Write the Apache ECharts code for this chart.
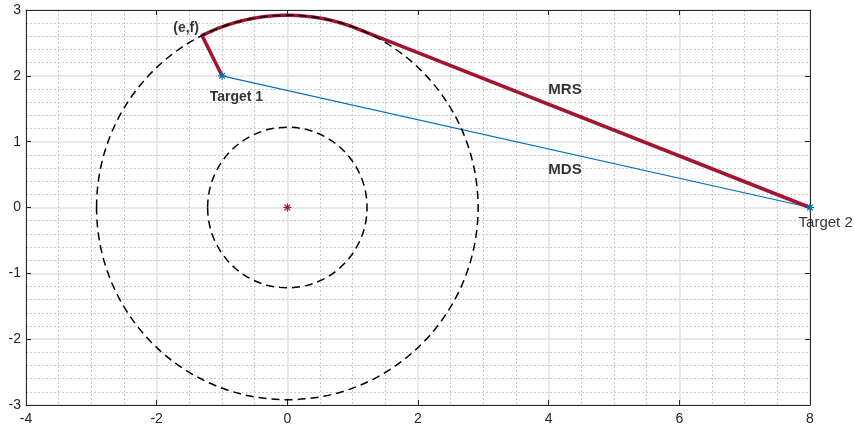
<!DOCTYPE html>
<html><head><meta charset="utf-8">
<script src="https://cdn.jsdelivr.net/npm/echarts@6/dist/echarts.min.js"></script>
<style>html,body{margin:0;padding:0;background:#fff}#chart{width:854px;height:431px}</style>
</head><body><div id="chart"></div>
<script>
// Axis ranges / ticks
const xRange = [-4, 8];
const yRange = [-3, 3];
const xStep = 2;
const yStep = 1;
const xMinorDivisions = 4;
const yMinorDivisions = 5;

// Geometry of the scene
const centre = [0, 0];
const circleRadii = [1.22, 2.92];   // inner and outer dashed circles
const target1 = [-1, 2];
const target2 = [8, 0];
const exitPoint = [-1.3, 2.6];      // (e,f) on the outer circle

// Text annotations: name, anchor point in data units, bold flag, font size
const labelNames = ['(e,f)', 'Target 1', 'MRS', 'MDS', 'Target 2'];
const labelPoints = [[-1.55, 2.72], [-0.78, 1.67], [4.25, 1.78], [4.25, 0.57], [8.24, -0.23]];
const labelBold = [true, true, true, true, false];
const labelSizes = [14, 14, 15, 15, 15];

const RED = '#A2142F';
const BLUE = '#0072BD';
const FONT = '"Liberation Sans", Arial, Helvetica, sans-serif';

const chart = echarts.init(document.getElementById('chart'), null, { renderer: 'canvas' });

// asterisk marker drawn as four crossing strokes
function asterisk(p, r, color) {
  const d = r * Math.SQRT1_2;
  const segs = [[-r, 0, r, 0], [0, -r, 0, r], [-d, -d, d, d], [-d, d, d, -d]];
  return {
    type: 'group',
    children: segs.map(s => ({
      type: 'line',
      shape: { x1: p[0] + s[0], y1: p[1] + s[1], x2: p[0] + s[2], y2: p[1] + s[3] },
      style: { stroke: color, lineWidth: 1.2 }
    }))
  };
}

const outerR = circleRadii[1];
const arcStart = Math.atan2(exitPoint[1] - centre[1], exitPoint[0] - centre[0]);
const dT2 = Math.hypot(target2[0] - centre[0], target2[1] - centre[1]);
const arcEnd = Math.atan2(target2[1] - centre[1], target2[0] - centre[0]) + Math.acos(outerR / dT2);

const axisCommon = {
  type: 'value',
  axisLine: { show: true, onZero: false, lineStyle: { color: '#262626', width: 1 } },
  axisTick: { show: true, inside: true, length: 5, lineStyle: { color: '#262626', width: 1 } },
};
const majorGrid = { show: true, lineStyle: { color: '#e0e0e0', width: 1.5 } };
const minorGrid = { show: true, lineStyle: { color: '#c8c8c8', width: 1, type: [2, 2] } };

const option = {
  animation: false,
  backgroundColor: '#ffffff',
  grid: { left: 26, right: 44, top: 10, bottom: 26, containLabel: false },
  xAxis: [
    Object.assign({}, axisCommon, {
      position: 'bottom', min: xRange[0], max: xRange[1], interval: xStep,
      axisLabel: { color: '#262626', fontSize: 14, fontFamily: FONT, margin: 7 },
      splitLine: majorGrid,
      minorTick: { show: true, splitNumber: xMinorDivisions, length: 0, lineStyle: { width: 0 } },
      minorSplitLine: minorGrid
    }),
    Object.assign({}, axisCommon, {
      position: 'top', min: xRange[0], max: xRange[1], interval: xStep,
      axisLabel: { show: false }, splitLine: { show: false }
    })
  ],
  yAxis: [
    Object.assign({}, axisCommon, {
      position: 'left', min: yRange[0], max: yRange[1], interval: yStep,
      axisLabel: { color: '#262626', fontSize: 14, fontFamily: FONT, margin: 5 },
      splitLine: majorGrid,
      minorTick: { show: true, splitNumber: yMinorDivisions, length: 0, lineStyle: { width: 0 } },
      minorSplitLine: minorGrid
    }),
    Object.assign({}, axisCommon, {
      position: 'right', min: yRange[0], max: yRange[1], interval: yStep,
      axisLabel: { show: false }, splitLine: { show: false }
    })
  ],
  series: [
    // MDS: direct line between the targets
    {
      type: 'line', xAxisIndex: 0, yAxisIndex: 0, z: 3,
      data: [target1, target2], symbol: 'none',
      lineStyle: { color: BLUE, width: 1.2 }
    },
    // MRS: target 1 -> (e,f) -> along the outer circle -> tangent -> target 2
    {
      type: 'custom', xAxisIndex: 0, yAxisIndex: 0, z: 4,
      data: [[centre[0], centre[1]]],
      renderItem: function (params, api) {
        const pts = [api.coord(target1), api.coord(exitPoint)];
        const n = 60;
        for (let i = 0; i <= n; i++) {
          const a = arcStart + (arcEnd - arcStart) * i / n;
          pts.push(api.coord([centre[0] + outerR * Math.cos(a), centre[1] + outerR * Math.sin(a)]));
        }
        pts.push(api.coord(target2));
        return {
          type: 'polyline', shape: { points: pts },
          style: { stroke: RED, lineWidth: 3.5, fill: null, lineJoin: 'round' }
        };
      }
    },
    // dashed circles around the centre
    {
      type: 'custom', xAxisIndex: 0, yAxisIndex: 0, z: 5,
      data: circleRadii.map(r => [centre[0], centre[1], r]),
      renderItem: function (params, api) {
        const c = api.coord([api.value(0), api.value(1)]);
        const r = api.value(2);
        const sx = api.size([r, 0])[0];
        const sy = api.size([0, r])[1];
        return {
          type: 'ellipse', shape: { cx: c[0], cy: c[1], rx: sx, ry: sy },
          style: { stroke: '#000', lineWidth: 1.5, fill: null, lineDash: [8, 5] }
        };
      }
    },
    // markers
    {
      type: 'custom', xAxisIndex: 0, yAxisIndex: 0, z: 6,
      data: [[target1[0], target1[1], 0], [target2[0], target2[1], 0], [centre[0], centre[1], 1]],
      renderItem: function (params, api) {
        const p = api.coord([api.value(0), api.value(1)]);
        return api.value(2) ? asterisk(p, 4, RED) : asterisk(p, 4, BLUE);
      }
    },
    // text annotations
    {
      type: 'scatter', xAxisIndex: 0, yAxisIndex: 0, z: 7,
      symbolSize: 0, silent: true, clip: false,
      data: labelPoints.map((p, i) => ({
        name: labelNames[i], value: p,
        label: { fontWeight: labelBold[i] ? 'bold' : 'normal', fontSize: labelSizes[i] }
      })),
      label: {
        show: true, position: 'inside', formatter: '{b}',
        color: '#000', fontFamily: FONT, textBorderWidth: 0, textShadowBlur: 0
      }
    }
  ]
};
chart.setOption(option);
</script></body></html>
